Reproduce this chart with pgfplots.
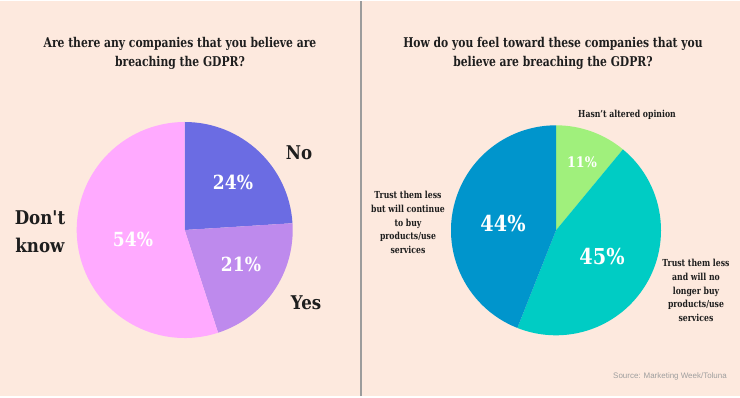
\documentclass[border=0pt]{standalone}
\usepackage{pgfplots}
\pgfplotsset{compat=1.18}
\usepackage{fontspec}
\setmainfont{DejaVu Serif}[FakeStretch=0.8]
\newfontfamily\bigfont{DejaVu Serif}[FakeStretch=0.88]
\newfontfamily\srcfont{Liberation Sans}
\definecolor{bg}{HTML}{FDE9DE}
\definecolor{divider}{HTML}{9C9C9C}
\definecolor{cNo}{HTML}{6B6CE3}
\definecolor{cYes}{HTML}{BE8AED}
\definecolor{cDK}{HTML}{FFAAFF}
\definecolor{cHas}{HTML}{A0F07C}
\definecolor{cNoLonger}{HTML}{00CCC4}
\definecolor{cContinue}{HTML}{0095CC}
\definecolor{txt}{HTML}{1E1E1E}
\begin{document}
\begin{tikzpicture}
% left pie values (percent): No, Yes, Don't know
\def\vNo{24}\def\vYes{21}\def\vDK{54}
% right pie values: Hasn't altered, no longer buy, continue
\def\vHas{11}\def\vLess{45}\def\vCont{44}
\pgfmathsetmacro\aA{90-3.6*\vNo}
\pgfmathsetmacro\aB{\aA-3.6*\vYes}
\pgfmathsetmacro\bA{90-3.6*\vHas}
\pgfmathsetmacro\bB{\bA-3.6*\vLess}
\begin{axis}[hide axis, scale only axis, width=740bp, height=395bp,
  xmin=0, xmax=740, ymin=0, ymax=395, clip=false]
\fill[bg] (axis cs:0,0) rectangle (axis cs:740,395);
\draw[divider, line width=2bp] (axis cs:361,0) -- (axis cs:361,395);
% left pie
\fill[cNo] (axis cs:184.7,166) -- ++(90:108bp) arc[start angle=90, end angle=\aA, radius=108bp] -- cycle;
\fill[cYes] (axis cs:184.7,166) -- ++(\aA:108bp) arc[start angle=\aA, end angle=\aB, radius=108bp] -- cycle;
\fill[cDK] (axis cs:184.7,166) -- ++(\aB:108bp) arc[start angle=\aB, end angle=-270, radius=108bp] -- cycle;
% right pie
\fill[cHas] (axis cs:556,165.7) -- ++(90:105bp) arc[start angle=90, end angle=\bA, radius=105bp] -- cycle;
\fill[cNoLonger] (axis cs:556,165.7) -- ++(\bA:105bp) arc[start angle=\bA, end angle=\bB, radius=105bp] -- cycle;
\fill[cContinue] (axis cs:556,165.7) -- ++(\bB:105bp) arc[start angle=\bB, end angle=-270, radius=105bp] -- cycle;
% titles
\node[txt, align=center, font=\fontsize{13.5}{19}\selectfont\bfseries] at (axis cs:180,342.5)
  {Are there any companies that you believe are\\breaching the GDPR?};
\node[txt, align=center, font=\fontsize{13.5}{19}\selectfont\bfseries] at (axis cs:553,342.5)
  {How do you feel toward these companies that you\\believe are breaching the GDPR?};
% left labels
\node[txt, font=\bigfont\fontsize{19}{28}\selectfont\bfseries] at (axis cs:299,243) {No};
\node[txt, font=\bigfont\fontsize{19}{28}\selectfont\bfseries] at (axis cs:306,93) {Yes};
\node[txt, align=center, font=\bigfont\fontsize{19}{28}\selectfont\bfseries] at (axis cs:40,164) {Don't\\know};
\node[white, font=\bigfont\fontsize{19.5}{21}\selectfont\bfseries] at (axis cs:233,214) {\vNo\%};
\node[white, font=\bigfont\fontsize{19.5}{21}\selectfont\bfseries] at (axis cs:241,132) {\vYes\%};
\node[white, font=\bigfont\fontsize{19.5}{21}\selectfont\bfseries] at (axis cs:133,157) {\vDK\%};
% right labels
\node[txt, font=\fontsize{9.7}{13.7}\selectfont\bfseries] at (axis cs:627,281) {Hasn't altered opinion};
\node[txt, align=center, font=\fontsize{9.7}{13.7}\selectfont\bfseries] at (axis cs:408,173.5)
  {Trust them less\\but will continue\\to buy\\products/use\\services};
\node[txt, align=center, font=\fontsize{9.7}{13.7}\selectfont\bfseries] at (axis cs:696,105.5)
  {Trust them less\\and will no\\longer buy\\products/use\\services};
\node[white, font=\bigfont\fontsize{14.5}{16}\selectfont\bfseries] at (axis cs:582,234) {\vHas\%};
\node[white, font=\bigfont\fontsize{22}{24}\selectfont\bfseries] at (axis cs:503,172) {\vCont\%};
\node[white, font=\bigfont\fontsize{22}{24}\selectfont\bfseries] at (axis cs:602,139) {\vLess\%};
% source
\node[text=black!38, font=\srcfont\fontsize{8}{9}\selectfont] at (axis cs:670,20) {Source: Marketing Week/Toluna};
\end{axis}
\end{tikzpicture}
\end{document}
